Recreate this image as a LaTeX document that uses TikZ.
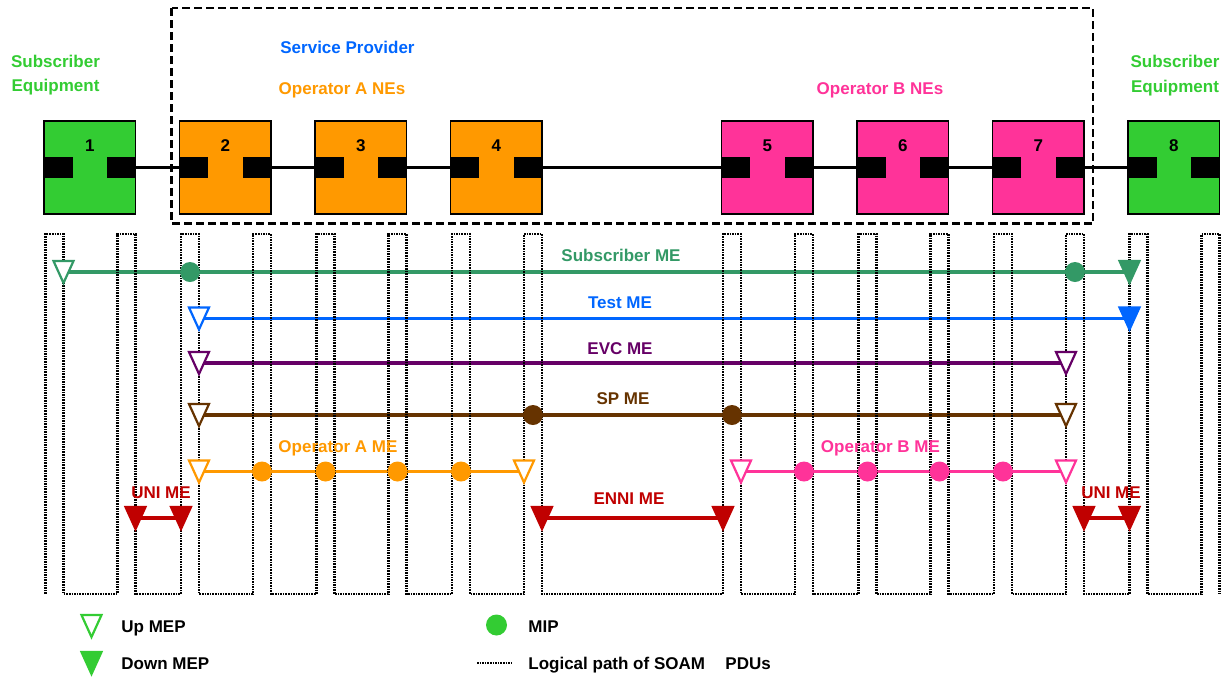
\documentclass[tikz,border=0pt]{standalone}
\usepackage{fontspec}
\setmainfont{Liberation Sans}
\definecolor{subg}{HTML}{33CC33}
\definecolor{opa}{HTML}{FF9900}
\definecolor{opb}{HTML}{FF3399}
\definecolor{spblue}{HTML}{0066FF}
\definecolor{subme}{HTML}{339966}
\definecolor{evc}{HTML}{660066}
\definecolor{spme}{HTML}{663300}
\definecolor{uni}{HTML}{C00000}
\tikzset{
  lbl/.style={font=\fontsize{8.5pt}{10pt}\selectfont\bfseries, anchor=base, inner sep=0pt},
  lbll/.style={lbl, anchor=base west},
  nebox/.style={draw=black, line width=0.9pt, minimum width=45.75pt, minimum height=46.5pt, inner sep=0pt},
  port/.style={fill=black, minimum width=14.5pt, minimum height=10.5pt, inner sep=0pt},
  conn/.style={line width=1.5pt},
  soam/.style={line width=1.1pt, dash pattern=on 0.8pt off 0.5pt},
  meline/.style={line width=1.6pt},
  mip/.style={circle, minimum size=10pt, inner sep=0pt},
  upmep/.pic={\path[pic actions, fill=white, line width=1.1pt, line join=miter] (-10,-11) -- (10,-11) -- (0,11) -- cycle;},
  dnmep/.pic={\path[pic actions, line width=1.1pt, line join=miter] (-10,-11) -- (10,-11) -- (0,11) -- cycle;},
}
\begin{document}
\begin{tikzpicture}[x=0.5pt,y=-0.5pt]
\useasboundingbox (0,0) rectangle (1228,676);

% dashed service provider frame
\draw[line width=1.25pt, dash pattern=on 3.8pt off 2.2pt] (171.5,8) rectangle (1093,223.5);

% boxes
\foreach \k/\L/\c in {1/44/subg,2/179.5/opa,3/315/opa,4/450.5/opa,5/721.5/opb,6/857/opb,7/992.5/opb,8/1128/subg}{
  \node[nebox, fill=\c] (b\k) at (\L+45.75,167.5) {};
  \node[port, anchor=west] (pl\k) at (b\k.west) {};
  \node[port, anchor=east] (pr\k) at (b\k.east) {};
  \node[lbl] (n\k) at (\L+45.75,151) {\k};
}
\foreach \a/\b in {1/2,2/3,3/4,4/5,5/6,6/7,7/8}{
  \draw[conn] (pr\a.east) -- (pl\b.west);
}

% labels top
\node[lbl, text=subg] (se1a) at (55.5,67) {Subscriber};
\node[lbl, text=subg] (se1b) at (55.5,91.5) {Equipment};
\node[lbl, text=subg] (se2a) at (1175,67) {Subscriber};
\node[lbl, text=subg] (se2b) at (1175,92) {Equipment};
\node[lbl, text=spblue] (spl) at (347.5,53.5) {Service Provider};
\node[lbl, text=opa] (opal) at (342,94) {Operator A NEs};
\node[lbl, text=opb] (opbl) at (880,94.5) {Operator B NEs};

% ME line end points
\coordinate (s1) at (63.5,272);   \coordinate (s2) at (1129.5,272);
\coordinate (t1) at (199,318.5);  \coordinate (t2) at (1129.5,318.5);
\coordinate (e1) at (199,363);    \coordinate (e2) at (1066,363);
\coordinate (p1) at (199,415);    \coordinate (p2) at (1066,415);
\coordinate (a1) at (199,471.5);  \coordinate (a2) at (524,471.5);
\coordinate (o1) at (741,471.5);  \coordinate (o2) at (1066,471.5);
\coordinate (u1) at (135.5,518);  \coordinate (u2) at (181,518);
\coordinate (x1) at (542,518);    \coordinate (x2) at (723,518);
\coordinate (v1) at (1084,518);   \coordinate (v2) at (1129.5,518);

\draw[meline, subme] (s1) -- (s2);
\draw[meline, spblue] (t1) -- (t2);
\draw[meline, evc] (e1) -- (e2);
\draw[meline, spme] (p1) -- (p2);
\draw[meline, opa] (a1) -- (a2);
\draw[meline, opb] (o1) -- (o2);
\draw[meline, uni] (u1) -- (u2);
\draw[meline, uni] (x1) -- (x2);
\draw[meline, uni] (v1) -- (v2);

% logical path of SOAM PDUs
\draw[soam] (45.5,594) foreach \L in {44,179.5,315,450.5,721.5,857,992.5,1128}{
  -- (\L+1.5,594) -- (\L+1.5,234) -- (\L+19.5,234) -- (\L+19.5,594)
  -- (\L+73.5,594) -- (\L+73.5,234) -- (\L+91.5,234) -- (\L+91.5,594)};

% MIPs
\node[mip, fill=subme] (sm1) at (190,272) {};
\node[mip, fill=subme] (sm2) at (1075,272) {};
\node[mip, fill=spme] (pm1) at (533,415) {};
\node[mip, fill=spme] (pm2) at (732,415) {};
\foreach \x [count=\i] in {262,325.5,397.5,461}{\node[mip, fill=opa] (am\i) at (\x,471.5) {};}
\foreach \x [count=\i] in {804,867.5,939.5,1003}{\node[mip, fill=opb] (bm\i) at (\x,471.5) {};}

% MEPs
\pic[draw=subme] at (s1) {upmep};
\pic[draw=subme, fill=subme] at (s2) {dnmep};
\pic[draw=spblue] at (t1) {upmep};
\pic[draw=spblue, fill=spblue] at (t2) {dnmep};
\pic[draw=evc] at (e1) {upmep};
\pic[draw=evc] at (e2) {upmep};
\pic[draw=spme] at (p1) {upmep};
\pic[draw=spme] at (p2) {upmep};
\pic[draw=opa] at (a1) {upmep};
\pic[draw=opa] at (a2) {upmep};
\pic[draw=opb] at (o1) {upmep};
\pic[draw=opb] at (o2) {upmep};
\foreach \c in {u1,u2,x1,x2,v1,v2}{\pic[draw=uni, fill=uni] at (\c) {dnmep};}

% ME labels
\node[lbl, text=subme] (lsub) at (621,261) {Subscriber ME};
\node[lbl, text=spblue] (ltest) at (620,308) {Test ME};
\node[lbl, text=evc] (levc) at (620,354) {EVC ME};
\node[lbl, text=spme] (lsp) at (623,404) {SP ME};
\node[lbl, text=opa] (lopa) at (338,452) {Operator A ME};
\node[lbl, text=opb] (lopb) at (880.5,452) {Operator B ME};
\node[lbl, text=uni] (luni1) at (161,498) {UNI ME};
\node[lbl, text=uni] (lenni) at (629,504) {ENNI ME};
\node[lbl, text=uni] (luni2) at (1111,498) {UNI ME};

% legend
\coordinate (lgu) at (91.5,626);
\coordinate (lgd) at (91.5,663);
\pic[draw=subg] at (lgu) {upmep};
\pic[draw=subg, fill=subg] at (lgd) {dnmep};
\node[lbll] (lgut) at (121,632) {Up MEP};
\node[lbll] (lgdt) at (121,669) {Down MEP};
\node[mip, fill=subg, minimum size=10.5pt] (lgm) at (496.5,625) {};
\node[lbll] (lgmt) at (528,632) {MIP};
\coordinate (lgl1) at (477,663);
\coordinate (lgl2) at (513,663);
\draw[soam, line width=0.7pt] (lgl1) -- (lgl2);
\node[lbll] (lglt) at (528,669) {Logical path of SOAM\hspace{1.2em}PDUs};
\end{tikzpicture}
\end{document}
